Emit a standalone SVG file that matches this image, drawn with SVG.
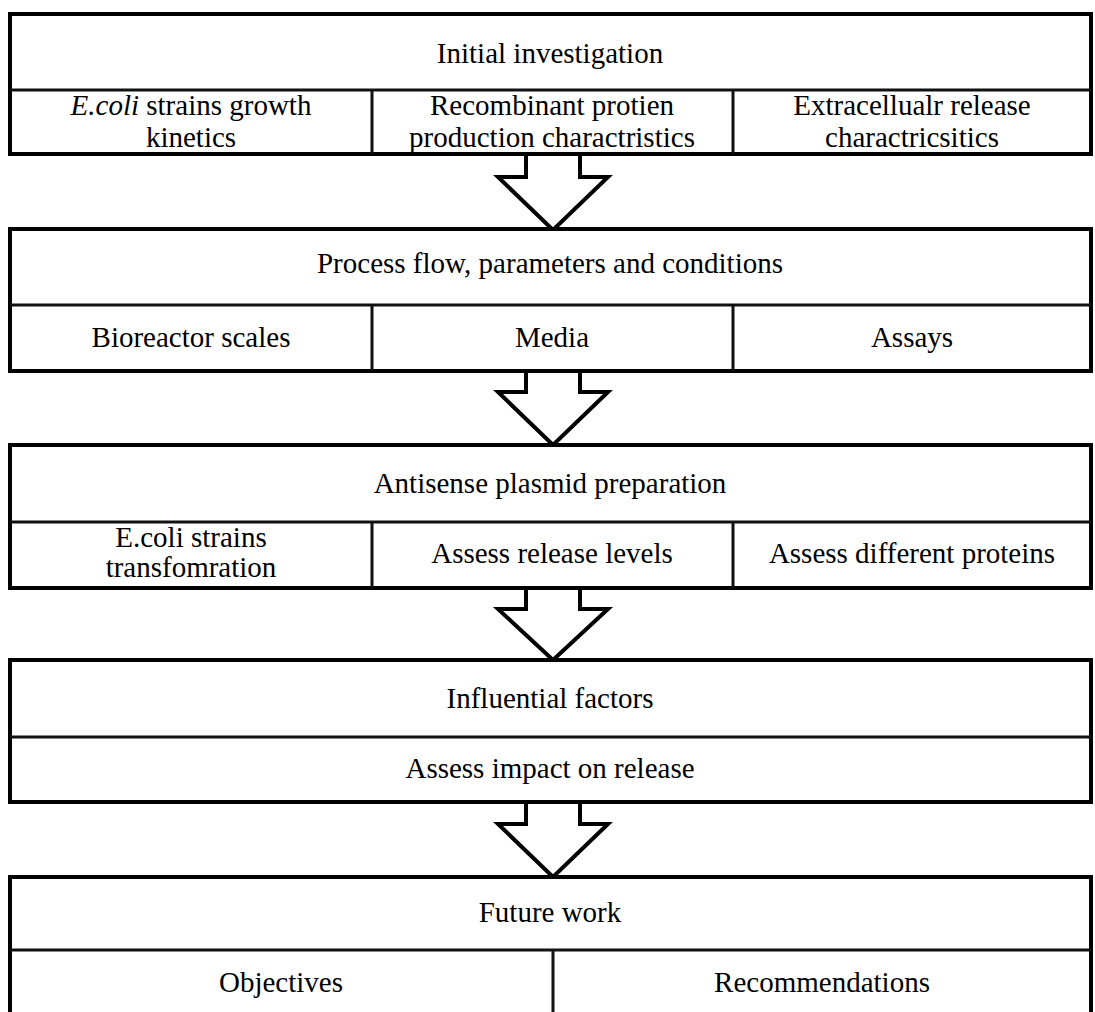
<svg xmlns="http://www.w3.org/2000/svg" width="1095" height="1012" viewBox="0 0 1095 1012">
<style>
.outer{fill:#fff;stroke:#000;stroke-width:4}
.inner{fill:none;stroke:#111;stroke-width:3}
.arrow{fill:#fff;stroke:#000;stroke-width:4;stroke-linejoin:miter}
text{font-family:"Liberation Serif","Times New Roman",serif;font-size:29px;fill:#000;text-anchor:middle}
</style>
<rect width="1095" height="1012" fill="#fff"/>
<g id="connectors">
<path class="arrow" d="M526,154 V177 H498 L553,230 L608,177 H580 V154"/>
<path class="arrow" d="M526,371 V392 H498 L553,445 L608,392 H580 V371"/>
<path class="arrow" d="M526,588 V609 H498 L553,660 L608,609 H580 V588"/>
<path class="arrow" d="M526,802 V824 H498 L553,877 L608,824 H580 V802"/>
</g>
<g id="initial-investigation">
<rect class="outer" x="10" y="14" width="1081" height="140"/>
<path class="inner" d="M10,90 H1091 M372,90 V154 M733,90 V154"/>
<text x="550" y="63">Initial investigation</text>
<text x="191" y="115"><tspan font-style="italic">E.coli</tspan> strains growth</text>
<text x="191" y="147">kinetics</text>
<text x="552" y="115">Recombinant protien</text>
<text x="552" y="147">production charactristics</text>
<text x="912" y="115">Extracellualr release</text>
<text x="912" y="147">charactricsitics</text>
</g>
<g id="process-flow">
<rect class="outer" x="10" y="229" width="1081" height="142"/>
<path class="inner" d="M10,305 H1091 M372,305 V371 M733,305 V371"/>
<text x="550" y="273">Process flow, parameters and conditions</text>
<text x="191" y="347">Bioreactor scales</text>
<text x="552" y="347">Media</text>
<text x="912" y="347">Assays</text>
</g>
<g id="antisense">
<rect class="outer" x="10" y="445" width="1081" height="143"/>
<path class="inner" d="M10,522 H1091 M372,522 V588 M733,522 V588"/>
<text x="550" y="493">Antisense plasmid preparation</text>
<text x="191" y="547">E.coli strains</text>
<text x="191" y="577">transfomration</text>
<text x="552" y="563">Assess release levels</text>
<text x="912" y="563">Assess different proteins</text>
</g>
<g id="influential-factors">
<rect class="outer" x="10" y="660" width="1081" height="142"/>
<path class="inner" d="M10,737 H1091"/>
<text x="550" y="708">Influential factors</text>
<text x="550" y="778">Assess impact on release</text>
</g>
<g id="future-work">
<rect class="outer" x="10" y="877" width="1081" height="150"/>
<path class="inner" d="M10,950 H1091 M553,950 V1012"/>
<text x="550" y="922">Future work</text>
<text x="281" y="992">Objectives</text>
<text x="822" y="992">Recommendations</text>
</g>
</svg>
